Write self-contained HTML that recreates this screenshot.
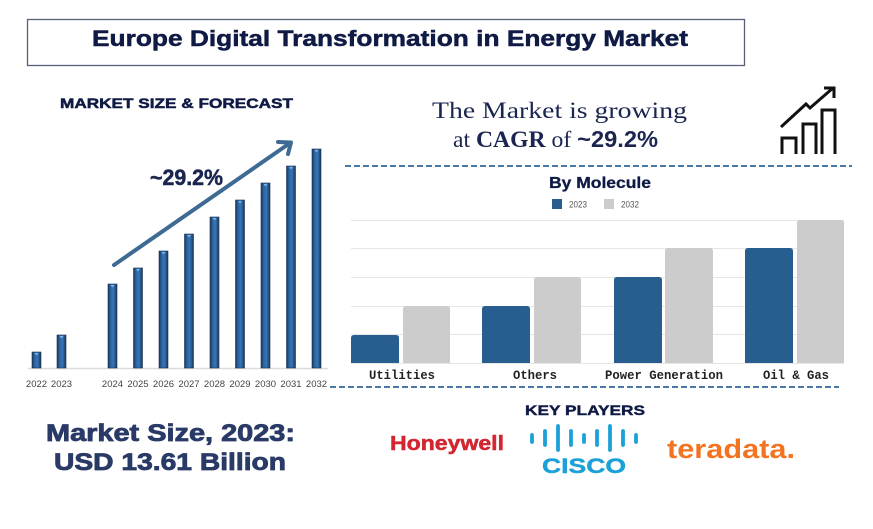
<!DOCTYPE html>
<html><head><meta charset="utf-8"><style>
html,body{margin:0;padding:0;background:#fff;}
svg{display:block;}
</style></head><body>
<svg width="873" height="529" viewBox="0 0 873 529" xmlns="http://www.w3.org/2000/svg">
<defs>
<linearGradient id="bg" x1="0" x2="1" y1="0" y2="0">
<stop offset="0" stop-color="#1b365a"/>
<stop offset="0.3" stop-color="#2c66a4"/>
<stop offset="0.6" stop-color="#3575b8"/>
<stop offset="1" stop-color="#1b365a"/>
</linearGradient>
</defs>
<rect width="873" height="529" fill="#fff"/>
<!-- Title box -->
<rect x="27.5" y="19.5" width="717" height="46" fill="#fff" stroke="#5a6078" stroke-width="1.3"/>
<text x="390" y="46" font-family="Liberation Sans, sans-serif" font-weight="bold" font-size="22" fill="#0f1a45" stroke="#0f1a45" stroke-width="0.5" text-anchor="middle" textLength="596" lengthAdjust="spacingAndGlyphs">Europe Digital Transformation in Energy Market</text>

<!-- Left chart -->
<text x="176.5" y="108" font-family="Liberation Sans, sans-serif" font-weight="bold" font-size="14" fill="#0f1a45" stroke="#0f1a45" stroke-width="0.5" text-anchor="middle" textLength="233" lengthAdjust="spacingAndGlyphs">MARKET SIZE &amp; FORECAST</text>
<line x1="28" y1="368.5" x2="328" y2="368.5" stroke="#dcdcdc" stroke-width="1.5"/>
<g stroke="#1a3354" stroke-width="0.6" fill="url(#bg)">
<rect x="32" y="352" width="9" height="16"/>
<rect x="57" y="335" width="9" height="33"/>
<rect x="108" y="284" width="9" height="84"/>
<rect x="133.5" y="268" width="9" height="100"/>
<rect x="159" y="251" width="9" height="117"/>
<rect x="184.5" y="234" width="9" height="134"/>
<rect x="210" y="217" width="9" height="151"/>
<rect x="235.5" y="200" width="9" height="168"/>
<rect x="261" y="183" width="9" height="185"/>
<rect x="286.5" y="166" width="9" height="202"/>
<rect x="312" y="149" width="9" height="219"/>
</g>
<g fill="#7fb4e4">
<polygon points="34.5,353 38.5,353 36.5,355.5"/>
<polygon points="59.5,336 63.5,336 61.5,338.5"/>
<polygon points="110.5,285 114.5,285 112.5,287.5"/>
<polygon points="136,269 140,269 138,271.5"/>
<polygon points="161.5,252 165.5,252 163.5,254.5"/>
<polygon points="187,235 191,235 189,237.5"/>
<polygon points="212.5,218 216.5,218 214.5,220.5"/>
<polygon points="238,201 242,201 240,203.5"/>
<polygon points="263.5,184 267.5,184 265.5,186.5"/>
<polygon points="289,167 293,167 291,169.5"/>
<polygon points="314.5,150 318.5,150 316.5,152.5"/>
</g>
<g font-family="Liberation Sans, sans-serif" font-size="9.5" fill="#444" text-anchor="middle">
<text x="36.5" y="387">2022</text>
<text x="61.5" y="387">2023</text>
<text x="112.5" y="387">2024</text>
<text x="138" y="387">2025</text>
<text x="163.5" y="387">2026</text>
<text x="189" y="387">2027</text>
<text x="214.5" y="387">2028</text>
<text x="240" y="387">2029</text>
<text x="265.5" y="387">2030</text>
<text x="291" y="387">2031</text>
<text x="316.5" y="387">2032</text>
</g>
<g stroke="#3e6a94" stroke-width="4" stroke-linecap="round" stroke-linejoin="round" fill="none">
<line x1="114" y1="265" x2="290" y2="143"/>
<polyline points="278,142 291,142.5 288,154"/>
</g>
<text x="186.5" y="185" font-family="Liberation Sans, sans-serif" font-weight="bold" font-size="22" fill="#1a2550" stroke="#1a2550" stroke-width="0.5" text-anchor="middle" textLength="73" lengthAdjust="spacingAndGlyphs">~29.2%</text>

<text x="170.5" y="441" font-family="Liberation Sans, sans-serif" font-weight="bold" font-size="24" fill="#2a3a66" stroke="#2a3a66" stroke-width="0.8" text-anchor="middle" textLength="249" lengthAdjust="spacingAndGlyphs">Market Size, 2023:</text>
<text x="170" y="470" font-family="Liberation Sans, sans-serif" font-weight="bold" font-size="24" fill="#2a3a66" stroke="#2a3a66" stroke-width="0.8" text-anchor="middle" textLength="232" lengthAdjust="spacingAndGlyphs">USD 13.61 Billion</text>

<!-- Right top -->
<text x="559.5" y="118" font-family="Liberation Serif, serif" font-size="23" fill="#1a2550" text-anchor="middle" textLength="255" lengthAdjust="spacingAndGlyphs">The Market is growing</text>
<text x="555.5" y="147" font-family="Liberation Serif, serif" font-size="23" fill="#1a2550" text-anchor="middle" textLength="205" lengthAdjust="spacingAndGlyphs">at <tspan font-weight="bold">CAGR</tspan> of <tspan font-weight="bold" font-family="Liberation Sans, sans-serif">~29.2%</tspan></text>
<!-- icon -->
<g stroke="#111" stroke-width="3" fill="none" stroke-linejoin="miter">
<polyline points="782,154 782,138 796,138 796,154"/>
<polyline points="803,154 803,124 816,124 816,154"/>
<polyline points="822,154 822,110 835,110 835,154"/>
<polyline points="781,127 806,104 810,108 833,88"/>
<polyline points="824,88 834,88 834,98"/>
</g>
<line x1="345" y1="166" x2="852" y2="166" stroke="#4a78a6" stroke-width="2" stroke-dasharray="6,3"/>

<!-- By Molecule chart -->
<text x="600" y="188" font-family="Liberation Sans, sans-serif" font-weight="bold" font-size="16" fill="#0f1a45" stroke="#0f1a45" stroke-width="0.3" text-anchor="middle" textLength="102" lengthAdjust="spacingAndGlyphs">By Molecule</text>
<rect x="552" y="199" width="10" height="10" fill="#285d8f"/>
<text x="569" y="207.5" font-family="Liberation Sans, sans-serif" font-size="9" fill="#555" textLength="18" lengthAdjust="spacingAndGlyphs">2023</text>
<rect x="604" y="199" width="10" height="10" fill="#cccccc"/>
<text x="621" y="207.5" font-family="Liberation Sans, sans-serif" font-size="9" fill="#555" textLength="18" lengthAdjust="spacingAndGlyphs">2032</text>
<g stroke="#e6e6e6" stroke-width="1">
<line x1="351" y1="220.5" x2="844" y2="220.5"/>
<line x1="351" y1="248.5" x2="844" y2="248.5"/>
<line x1="351" y1="277.5" x2="844" y2="277.5"/>
<line x1="351" y1="306.5" x2="844" y2="306.5"/>
<line x1="351" y1="334.5" x2="844" y2="334.5"/>
<line x1="351" y1="363.5" x2="844" y2="363.5"/>
</g>
<g fill="#285d8f">
<path d="M351,363 V338 Q351,335 354,335 H396 Q399,335 399,338 V363 Z"/>
<path d="M482,363 V309 Q482,306 485,306 H527 Q530,306 530,309 V363 Z"/>
<path d="M614,363 V280 Q614,277 617,277 H659 Q662,277 662,280 V363 Z"/>
<path d="M745,363 V251 Q745,248 748,248 H790 Q793,248 793,251 V363 Z"/>
</g>
<g fill="#cccccc">
<path d="M403,363 V309 Q403,306 406,306 H447 Q450,306 450,309 V363 Z"/>
<path d="M534,363 V280 Q534,277 537,277 H578 Q581,277 581,280 V363 Z"/>
<path d="M665,363 V251 Q665,248 668,248 H710 Q713,248 713,251 V363 Z"/>
<path d="M797,363 V223 Q797,220 800,220 H841 Q844,220 844,223 V363 Z"/>
</g>
<g font-family="Liberation Mono, monospace" font-weight="bold" font-size="12.5" fill="#222" text-anchor="middle">
<text x="402" y="379" textLength="66" lengthAdjust="spacingAndGlyphs">Utilities</text>
<text x="535" y="379" textLength="44" lengthAdjust="spacingAndGlyphs">Others</text>
<text x="664" y="379" textLength="118" lengthAdjust="spacingAndGlyphs">Power Generation</text>
<text x="796" y="379" textLength="66" lengthAdjust="spacingAndGlyphs">Oil &amp; Gas</text>
</g>
<line x1="330" y1="387" x2="839" y2="387" stroke="#4a78a6" stroke-width="2" stroke-dasharray="6,3"/>

<!-- Key players -->
<text x="585" y="415" font-family="Liberation Sans, sans-serif" font-weight="bold" font-size="14" fill="#0f1a45" stroke="#0f1a45" stroke-width="0.4" text-anchor="middle" textLength="120" lengthAdjust="spacingAndGlyphs">KEY PLAYERS</text>
<text x="447" y="450" font-family="Liberation Sans, sans-serif" font-weight="bold" font-size="20" fill="#d22630" stroke="#d22630" stroke-width="0.5" text-anchor="middle" textLength="114" lengthAdjust="spacingAndGlyphs">Honeywell</text>
<g stroke="#1ba0d7" stroke-width="3.8" stroke-linecap="round">
<line x1="532" y1="435" x2="532" y2="442"/>
<line x1="545" y1="431" x2="545" y2="445"/>
<line x1="558" y1="426" x2="558" y2="450"/>
<line x1="571" y1="431" x2="571" y2="445"/>
<line x1="584" y1="435" x2="584" y2="442"/>
<line x1="597" y1="431" x2="597" y2="445"/>
<line x1="610" y1="426" x2="610" y2="450"/>
<line x1="623" y1="431" x2="623" y2="445"/>
<line x1="636" y1="435" x2="636" y2="442"/>
</g>
<text x="584" y="473" font-family="Liberation Sans, sans-serif" font-weight="bold" font-size="21" fill="#1ba0d7" stroke="#1ba0d7" stroke-width="0.4" text-anchor="middle" textLength="84" lengthAdjust="spacingAndGlyphs">CISCO</text>
<text x="731" y="458" font-family="Liberation Sans, sans-serif" font-weight="bold" font-size="27" fill="#f37321" text-anchor="middle" textLength="128" lengthAdjust="spacingAndGlyphs">teradata.</text>
</svg>
</body></html>
